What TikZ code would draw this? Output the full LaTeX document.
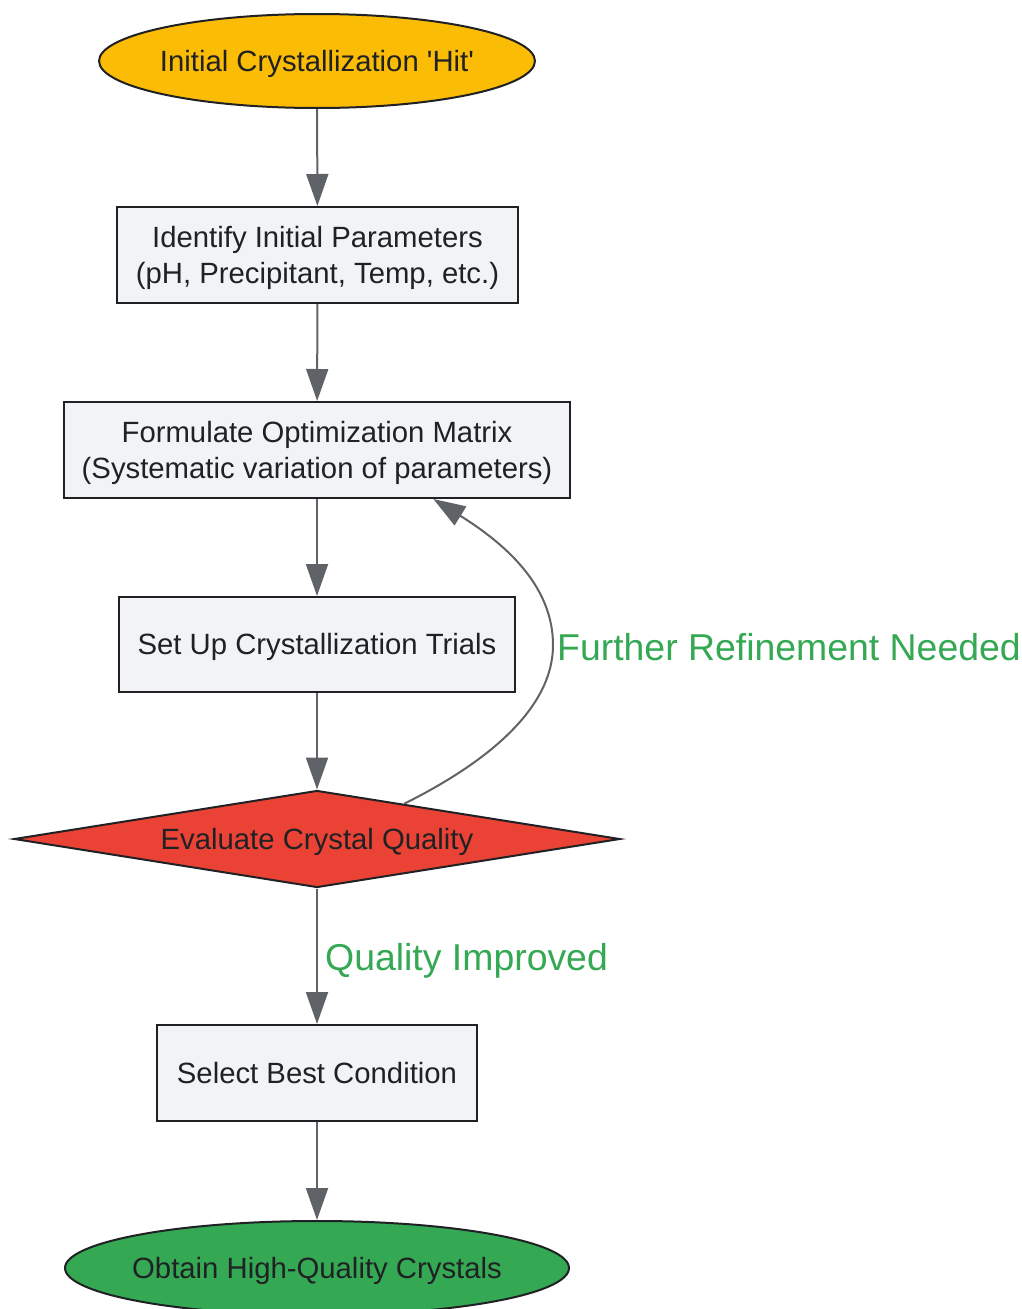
\documentclass[tikz,border=0pt]{standalone}
\usepackage{fontspec}
\setmainfont{Liberation Sans}[Ligatures=TeXOff]
\usetikzlibrary{shapes.geometric,arrows.meta,calc}
\definecolor{txt}{HTML}{202124}
\definecolor{edgec}{HTML}{5F6368}
\definecolor{boxfill}{HTML}{F1F3F4}
\definecolor{gyellow}{HTML}{FBBC05}
\definecolor{gred}{HTML}{EA4335}
\definecolor{ggreen}{HTML}{34A853}
\newcommand{\oneln}[1]{\raisebox{0pt}[22pt][2pt]{#1}}
\newcommand{\twoln}[2]{\raisebox{0pt}[25pt][41pt]{\begin{tabular}[t]{@{}c@{}}#1\\#2\end{tabular}}}
\newcommand{\ellln}[1]{\makebox[250pt]{\oneln{#1}}}
\begin{document}
\begin{tikzpicture}[x=1pt,y=-1pt,
  base/.style={draw=txt,line width=2pt,text=txt,inner sep=0pt,
    font=\fontsize{29.3}{36}\selectfont},
  procbox/.style={base,rectangle,fill=boxfill,minimum height=96pt},
  termnode/.style={base,ellipse,minimum height=94pt},
  decnode/.style={base,diamond,fill=gred,aspect=6.4,minimum width=606pt,minimum height=97pt},
  flow/.style={draw=edgec,line width=2pt,-{Triangle[length=32pt,width=22pt]}},
  elabel/.style={text=ggreen,inner sep=0pt,font=\fontsize{37.4}{44}\selectfont}
]
\useasboundingbox (0,0) rectangle (1021,1309);
\node[termnode,fill=gyellow,minimum width=436pt] (start) at (317,61) {\ellln{Initial Crystallization 'Hit'}};
\node[procbox,minimum width=401pt] (ident) at (317.5,255) {\twoln{Identify Initial Parameters}{(pH, Precipitant, Temp, etc.)}};
\node[procbox,minimum width=506pt] (form) at (317,450) {\twoln{Formulate Optimization Matrix}{(Systematic variation of parameters)}};
\node[procbox,minimum width=396pt,minimum height=95pt] (setup) at (317,644.5) {\oneln{Set Up Crystallization Trials}};
\node[decnode] (eval) at (317,839) {\oneln{Evaluate Crystal Quality}};
\node[procbox,minimum width=320pt] (select) at (317,1073) {\oneln{Select Best Condition}};
\node[termnode,fill=ggreen,minimum width=504pt] (obtain) at (317,1268) {\ellln{Obtain High-Quality Crystals}};

\draw[flow] (start) -- (ident);
\draw[flow] (ident) -- (form);
\draw[flow] (form) -- (setup);
\draw[flow] (setup) -- (eval);
\draw[flow] (eval) -- (select);
\draw[flow] (select) -- (obtain);

\coordinate (bend) at (553,645);
\draw[flow] ($(eval.north)!0.287!(eval.east)$) .. controls (480,766) and (553,712) .. (bend)
  .. controls (553,590) and (512,548) .. ($(form.south)!0.458!(form.south east)$);
\node[elabel,anchor=west] (lfurther) at (557,647) {Further Refinement Needed};
\node[elabel,anchor=west] (lquality) at (325,961) {Quality Improved};
\end{tikzpicture}
\end{document}
